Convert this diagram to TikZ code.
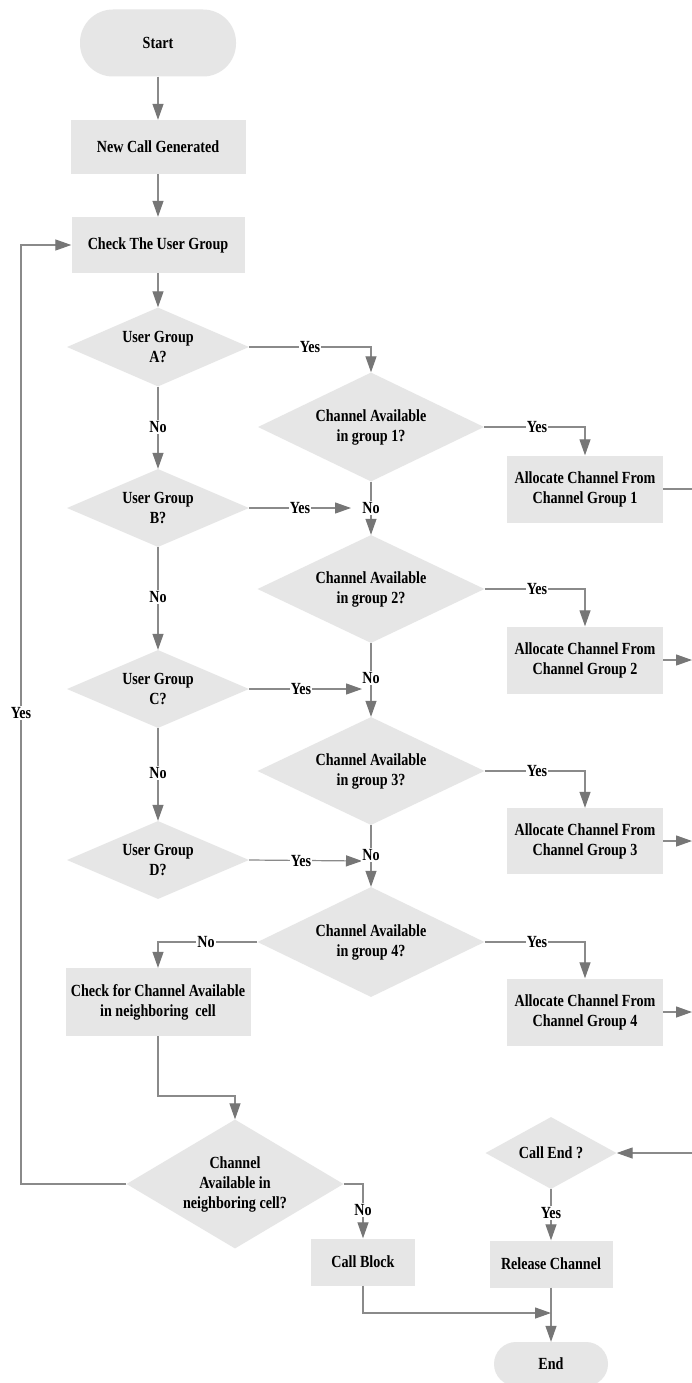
\documentclass[tikz,border=0pt]{standalone}
\usepackage{fontspec}
\setmainfont{Liberation Serif}[FakeStretch=0.83]
\usetikzlibrary{shapes.geometric,arrows.meta}
\definecolor{boxfill}{HTML}{E6E6E6}
\definecolor{linegray}{HTML}{8A8A8A}
\definecolor{arrowgray}{HTML}{767676}
\begin{document}
\begin{tikzpicture}[x=1pt,y=-1pt,
  every node/.style={font=\fontsize{17}{20}\selectfont\bfseries, text=black},
  proc/.style={rectangle, fill=boxfill, inner sep=0pt, align=center},
  term/.style={rectangle, rounded corners=22pt, fill=boxfill, inner sep=0pt},
  dec/.style={diamond, fill=boxfill, inner sep=0pt, align=center},
  conn/.style={draw=linegray, line width=1.2pt},
  arr/.style={conn, -{Triangle[length=16pt,width=11pt,color=arrowgray]}},
  lab/.style={fill=white, inner sep=1pt}]
\useasboundingbox (0,0) rectangle (692,1383);
\fill[white] (0,0) rectangle (692,1383);

% nodes
\node[term, rounded corners=33pt, minimum width=156pt, minimum height=67pt] (start) at (158,43) {Start};
\node[proc, minimum width=175pt, minimum height=54pt] (new) at (158,147) {New Call Generated};
\node[proc, minimum width=173pt, minimum height=56pt] (check) at (158,245) {Check The User Group};
\node[dec, aspect=2.3, minimum width=182pt, minimum height=79pt] (A) at (158,347) {User Group\\A?};
\node[dec, aspect=2.3, minimum width=182pt, minimum height=78pt] (B) at (158,508) {User Group\\B?};
\node[dec, aspect=2.3, minimum width=182pt, minimum height=78pt] (C) at (158,689) {User Group\\C?};
\node[dec, aspect=2.3, minimum width=182pt, minimum height=78pt] (D) at (158,860) {User Group\\D?};
\node[dec, aspect=2.1, minimum width=226pt, minimum height=109pt] (ch1) at (371,427) {Channel Available\\in group 1?};
\node[dec, aspect=2.1, minimum width=227pt, minimum height=108pt] (ch2) at (371,589) {Channel Available\\in group 2?};
\node[dec, aspect=2.1, minimum width=227pt, minimum height=108pt] (ch3) at (371,771) {Channel Available\\in group 3?};
\node[dec, aspect=2.1, minimum width=227pt, minimum height=110pt] (ch4) at (371,942) {Channel Available\\in group 4?};
\node[proc, minimum width=156pt, minimum height=67pt] (al1) at (585,489) {Allocate Channel From\\Channel Group 1};
\node[proc, minimum width=156pt, minimum height=67pt] (al2) at (585,660) {Allocate Channel From\\Channel Group 2};
\node[proc, minimum width=156pt, minimum height=66pt] (al3) at (585,841) {Allocate Channel From\\Channel Group 3};
\node[proc, minimum width=156pt, minimum height=67pt] (al4) at (585,1012) {Allocate Channel From\\Channel Group 4};
\node[proc, minimum width=185pt, minimum height=68pt] (checkn) at (158,1002) {Check for Channel Available\\in neighboring\ \ cell};
\node[dec, aspect=1.68, minimum width=217pt, minimum height=129pt] (nb) at (235,1184) {Channel\\Available in\\neighboring cell?};
\node[dec, aspect=1.82, minimum width=131pt, minimum height=72pt] (callend) at (551,1153) {Call End ?};
\node[proc, minimum width=104pt, minimum height=47pt] (block) at (363,1262) {Call Block};
\node[proc, minimum width=123pt, minimum height=47pt] (release) at (551,1264) {Release Channel};
\node[term, minimum width=114pt, minimum height=44pt] (end) at (551,1364) {End};

% free ends
\coordinate (byes) at (351,508);
\coordinate (cyes) at (362,689);
\coordinate (dyes) at (362,861);
\coordinate (r1) at (692,489);
\coordinate (r2) at (692,660);
\coordinate (r3) at (692,841);
\coordinate (r4) at (692,1012);
\coordinate (rin) at (692,1153);
\coordinate (loopx) at (21,1184);
\coordinate (nbx) at (235,1096);
\coordinate (blockx) at (363,1313);
\coordinate (endx) at (551,1313);

% connectors
\draw[arr] (start) -- (new);
\draw[arr] (new) -- (check);
\draw[arr] (check) -- (A);
\draw[arr] (A.east) -| (ch1.north);
\draw[arr] (A) -- (B);
\draw[arr] (B.east) -- (byes);
\draw[arr] (B) -- (C);
\draw[arr] (C.east) -- (cyes);
\draw[arr] (C) -- (D);
\draw[arr] (D.east) -- (dyes);
\draw[arr] (ch1) -- (ch2);
\draw[arr] (ch2) -- (ch3);
\draw[arr] (ch3) -- (ch4);
\draw[arr] (ch1.east) -| (al1.north);
\draw[arr] (ch2.east) -| (al2.north);
\draw[arr] (ch3.east) -| (al3.north);
\draw[arr] (ch4.east) -| (al4.north);
\draw[conn] (al1.east) -- (r1);
\draw[arr] (al2.east) -- (r2);
\draw[arr] (al3.east) -- (r3);
\draw[arr] (al4.east) -- (r4);
\draw[arr] (ch4.west) -| (checkn.north);
\draw[arr] (checkn.south) |- (nbx) -- (nb.north);
\draw[arr] (nb.west) -- (loopx) |- (check.west);
\draw[arr] (nb.east) -| (block.north);
\draw[arr] (rin) -- (callend.east);
\draw[arr] (callend) -- (release);
\draw[arr] (release) -- (end);
\draw[arr] (block.south) |- (endx);

% labels
\node[lab] (l1) at (310,347) {Yes};
\node[lab] (l2) at (158,427) {No};
\node[lab] (l3) at (300,508) {Yes};
\node[lab] (l4) at (371,508) {No};
\node[lab] (l5) at (537,427) {Yes};
\node[lab] (l6) at (158,597) {No};
\node[lab] (l7) at (301,689) {Yes};
\node[lab] (l8) at (371,678) {No};
\node[lab] (l9) at (537,589) {Yes};
\node[lab] (l10) at (158,773) {No};
\node[lab] (l11) at (301,861) {Yes};
\node[lab] (l12) at (371,855) {No};
\node[lab] (l13) at (537,771) {Yes};
\node[lab] (l14) at (206,942) {No};
\node[lab] (l15) at (537,942) {Yes};
\node[lab] (l16) at (21,713) {Yes};
\node[lab] (l17) at (363,1210) {No};
\node[lab] (l18) at (551,1213) {Yes};
\end{tikzpicture}
\end{document}
